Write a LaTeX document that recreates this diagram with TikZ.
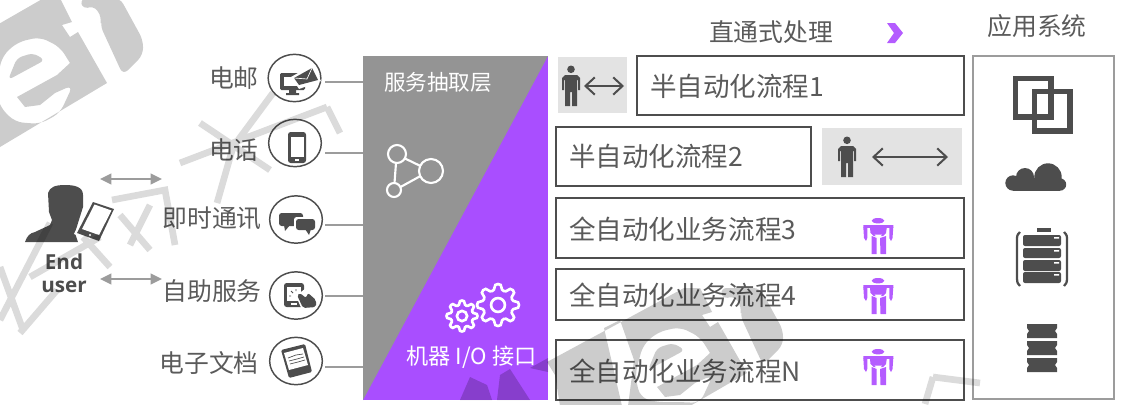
\documentclass[tikz,border=0pt]{standalone}
\usepackage{fontspec}
\setmainfont{Noto Sans CJK SC}
\newfontfamily\latinbold{Open Sans}
\usetikzlibrary{arrows.meta,shapes.geometric}
\definecolor{inkgray}{HTML}{4D4D4D}
\definecolor{textgray}{HTML}{5A5A5A}
\definecolor{chipgray}{HTML}{E3E3E3}
\definecolor{sysgray}{HTML}{9C9C9C}
\definecolor{panelgray}{HTML}{949494}
\definecolor{panelpurple}{HTML}{A94EFF}
\definecolor{robotpurple}{HTML}{B45CFF}
\tikzset{
	bigtext/.style={text=textgray, inner sep=0pt, font=\fontsize{18.6pt}{20pt}\selectfont},
	flowtext/.style={text=textgray, inner sep=0pt, anchor=west, font=\fontsize{19.9pt}{22pt}\selectfont},
	paneltext/.style={text=white, inner sep=0pt, font=\fontsize{16.2pt}{18pt}\selectfont},
	flowline/.style={draw=inkgray, line width=2pt},
	ringnode/.style={draw=inkgray, ellipse, line width=1.1pt, minimum width=39.5pt, minimum height=35.5pt, inner sep=0pt},
	stubline/.style={draw=sysgray, line width=1.7pt},
	userarrow/.style={draw=sysgray, line width=1.4pt, {Triangle[length=8.5pt,width=8pt]}-{Triangle[length=8.5pt,width=8pt]}},
	barbarrow/.style={draw=inkgray, line width=1.5pt, {Straight Barb[length=7pt,width=13pt]}-{Straight Barb[length=7pt,width=13pt]}},
	stamp/.style={fill=black, opacity=0.2},
	stampline/.style={draw=black, opacity=0.14, line width=5pt}
}
\def\workerfig(#1,#2){\begin{scope}[shift={(#1,#2)}]
	\fill[inkgray] (0,4.3) circle (3.8);
	\fill[inkgray] (-6,10) -- (6,10) -- (9,13) -- (9,25) -- (7,25) -- (7,15) -- (6,15) -- (6,41) -- (1,41) -- (1,27) -- (-1,27) -- (-1,41) -- (-6,41) -- (-6,15) -- (-7,15) -- (-7,25) -- (-9,25) -- (-9,13) -- cycle;
\end{scope}}
\def\robotfig(#1,#2){\begin{scope}[shift={(#1,#2)}]
	\fill[robotpurple] (0,2.7) ellipse (6.3 and 2.7);
	\fill[robotpurple] (-14.7,7) -- (15.3,7) -- (15.3,9.5) -- (8.7,10) -- (8,15) -- (5,18) -- (-4.5,18) -- (-7.5,15) -- (-8,10) -- (-14.7,9.5) -- cycle;
	\fill[robotpurple] (-14.7,9) -- (-10.7,9) -- (-10.7,20) -- (-12,23) -- (-14,20) -- cycle;
	\fill[robotpurple] (11.3,9) -- (15.3,9) -- (14.5,20) -- (13,23) -- (11.3,20) -- cycle;
	\fill[robotpurple] (-6.3,18) -- (-1.3,20) -- (-1.3,36) -- (-6.3,36) -- cycle;
	\fill[robotpurple] (2,20) -- (8,18) -- (8,36) -- (2.5,36) -- cycle;
	\fill[white] (-3.5,16.5) -- (4,16.5) -- (0.5,21) -- cycle;
\end{scope}}
\def\gearfig(#1,#2,#3){
	\draw[white, line width=2pt] plot[smooth cycle, samples=48, domain=0:352.5] ({#1+#3*(0.86+0.14*max(-1,min(1,1.5*cos(8*\x))))*cos(\x)},{#2+#3*(0.86+0.14*max(-1,min(1,1.5*cos(8*\x))))*sin(\x)});
	\draw[white, line width=2pt] (#1,#2) circle ({0.33*#3});
}

\begin{document}
\begin{tikzpicture}[x=0.75pt,y=-0.75pt]
	%%%%% START %%%%%
	\useasboundingbox (0,0) rectangle (1134,404);
	
	% titles
	\node[bigtext] (directtitle) at (771,32) {直通式处理};
	\node[bigtext] (systitle) at (1037,26) {应用系统};
	\fill[robotpurple] (887,23) -- (895,23) -- (903,33) -- (895,43) -- (887,43) -- (894,33) -- cycle;
	
	% channels
	\node[ringnode] (mailring) at (294.5,78) {};
	\node[ringnode] (phonering) at (295,143) {};
	\node[ringnode] (chatring) at (296,219.5) {};
	\node[ringnode] (selfring) at (296,295.5) {};
	\node[ringnode] (docring) at (296,361) {};
	\node[bigtext, anchor=east] (maillabel) at (259,78) {电邮};
	\node[bigtext, anchor=east] (phonelabel) at (259,150) {电话};
	\node[bigtext, anchor=east] (chatlabel) at (262,218) {即时通讯};
	\node[bigtext, anchor=east] (selflabel) at (262,291) {自助服务};
	\node[bigtext, anchor=east] (doclabel) at (259,363) {电子文档};
	
	\coordinate (mailstub) at (325,82);
	\coordinate (phonestub) at (325,153);
	\coordinate (chatstub) at (325,225);
	\coordinate (selfstub) at (325,296);
	\coordinate (docstub) at (325,367);
	\coordinate (mailport) at (363,82);
	\coordinate (phoneport) at (363,153);
	\coordinate (chatport) at (363,225);
	\coordinate (selfport) at (363,296);
	\coordinate (docport) at (363,367);
	\draw[stubline] (mailstub) -- (mailport);
	\draw[stubline] (phonestub) -- (phoneport);
	\draw[stubline] (chatstub) -- (chatport);
	\draw[stubline] (selfstub) -- (selfport);
	\draw[stubline] (docstub) -- (docport);
	
	% channel icons
	\fill[inkgray, rounded corners=1pt] (280,73) rectangle (305,90);
	\fill[white] (284,77) rectangle (301,86);
	\fill[inkgray] (289,90) rectangle (296,93) (286,93) rectangle (299,95);
	\fill[white] (291,77) -- (312,65) -- (321,81) -- (299,89) -- cycle;
	\fill[inkgray] (294,78) -- (312,68) -- (318,80) -- (299,85) -- cycle;
	\draw[white, line width=0.5pt] (294,78) -- (307,79) -- (312,68);
	\fill[inkgray, rounded corners=2pt] (288,132) rectangle (306,163);
	\fill[white] (290.5,137) rectangle (303.5,157);
	\fill[white] (295,159) rectangle (299,161);
	\fill[inkgray, rounded corners=2pt] (279,213) rectangle (303,226);
	\fill[inkgray] (284,225) -- (290,225) -- (285,231) -- cycle;
	\fill[white, rounded corners=2pt] (294,217) rectangle (317,232);
	\fill[inkgray, rounded corners=2pt] (296,219) rectangle (315,230);
	\fill[inkgray] (305,229) -- (311,229) -- (309,235) -- cycle;
	\fill[inkgray, rounded corners=2pt] (284,283) rectangle (304,307);
	\fill[white] (287,287) rectangle (301,301);
	\fill[white] (291,303) rectangle (297,305);
	\fill[white] (296,296) -- (306,288) -- (318,300) -- (316,309) -- (302,310) -- cycle;
	\fill[inkgray, rounded corners=1.5pt] (297,295) -- (300,293) -- (306,298) -- (308,293) -- (316,300) -- (316,307) -- (303,308) -- cycle;
	\draw[inkgray, line width=0.7pt] (291,291) -- (293,293) (296,289) -- (296,291) (289,296) -- (291,296);
	\fill[inkgray, rounded corners=1pt] (281,350) -- (305,344) -- (312,372) -- (289,378) -- cycle;
	\fill[white] (284,353) -- (303,348) -- (308,365) -- (289,370) -- cycle;
	\draw[inkgray, line width=0.5pt] (288,358) -- (296,355) -- (303,354) (289,361) -- (297,359) -- (304,357) (290,364) -- (298,362) -- (305,360);
	
	% user
	\fill[inkgray] (25,242) .. controls (27,236) and (30,233) .. (35,232) -- (50,225) -- (52,220) -- (49,212) -- (48,193) .. controls (50,187) and (55,185) .. (65,185) .. controls (75,185) and (83,187) .. (83,195) -- (83,207) -- (78,223) -- (75,233) -- (78,242) -- cycle;
	\fill[white] (91,199) -- (117,208) -- (100,244) -- (74,234) -- cycle;
	\fill[inkgray] (93,202) -- (114,209) -- (99,241) -- (77,233) -- cycle;
	\fill[white] (94.5,204.5) -- (111.5,210.5) -- (99,235) -- (82,229) -- cycle;
	\fill[white] (90,235) circle (1.2);
	\node[text=inkgray, inner sep=0pt, font=\latinbold\bfseries\fontsize{15.5pt}{17pt}\selectfont] (endlabel) at (64,262) {End};
	\node[text=inkgray, inner sep=0pt, font=\latinbold\bfseries\fontsize{15.5pt}{17pt}\selectfont] (userlabel) at (64,287) {user};
	\coordinate (upperarrowa) at (100,179);
	\coordinate (upperarrowb) at (162,179);
	\coordinate (lowerarrowa) at (100,279);
	\coordinate (lowerarrowb) at (162,279);
	\draw[userarrow] (upperarrowa) -- (upperarrowb);
	\draw[userarrow] (lowerarrowa) -- (lowerarrowb);
	
	% panel
	\fill[panelpurple] (363,56) rectangle (548,400);
	\fill[panelgray] (363,56) -- (548,56) -- (363,400) -- cycle;
	\node[paneltext] (abstractlabel) at (438,82) {服务抽取层};
	\node[paneltext, font=\fontsize{16.6pt}{18pt}\selectfont] (iolabel) at (471.5,357) {机器 I/O 接口};
	\draw[white, line width=1.6pt] (397,154) circle (9);
	\draw[white, line width=1.6pt] (431,171) circle (12);
	\draw[white, line width=1.6pt] (394,190) circle (7);
	\draw[white, line width=1.6pt] (396,163) -- (394.5,183) (405,158.5) -- (420.5,166) (400.5,187) -- (420.5,176);
	\gearfig(498,305,21)
	\gearfig(462,316,15.5)
	
	% flows
	\fill[chipgray] (558,57) rectangle (627,113);
	\fill[chipgray] (822,128) rectangle (962,185);
	\workerfig(571,65)
	\workerfig(847,136)
	\coordinate (shortarrowa) at (584,86);
	\coordinate (shortarrowb) at (624,86);
	\coordinate (longarrowa) at (872,157);
	\coordinate (longarrowb) at (948,157);
	\draw[barbarrow] (shortarrowa) -- (shortarrowb);
	\draw[barbarrow] (longarrowa) -- (longarrowb);
	
	\draw[flowline] (637,56) rectangle (964,115);
	\draw[flowline] (556,127) rectangle (811,186);
	\draw[flowline] (556,198) rectangle (964,258);
	\draw[flowline] (556,269) rectangle (964,320);
	\draw[flowline] (556,340) rectangle (964,400);
	\node[flowtext] (flowone) at (650,86) {半自动化流程1};
	\node[flowtext] (flowtwo) at (569,156) {半自动化流程2};
	\node[flowtext] (flowthree) at (569,229) {全自动化业务流程3};
	\node[flowtext] (flowfour) at (569,295) {全自动化业务流程4};
	\node[flowtext] (flowlast) at (569,371) {全自动化业务流程N};
	\robotfig(878,218)
	\robotfig(878,278)
	\robotfig(878,349)
	
	% systems
	\draw[draw=sysgray, line width=2.2pt] (973,56) rectangle (1114,399);
	\draw[inkgray, line width=3.8pt] (1015.5,78.5) rectangle (1051,117);
	\draw[inkgray, line width=3.8pt] (1034.5,91.5) rectangle (1070,131);
	\fill[inkgray] (1013,183) circle (7.7) (1025,177) circle (9) (1048,177) circle (13.7) (1060,184.5) circle (6.2);
	\fill[inkgray] (1013,178) rectangle (1060,190.7);
	\fill[inkgray] (1037,228) rectangle (1051,232);
	\fill[inkgray, rounded corners=1.5pt] (1023,235) rectangle (1061,246);
	\fill[inkgray, rounded corners=1.5pt] (1023,248) rectangle (1061,258);
	\fill[inkgray, rounded corners=1.5pt] (1023,260) rectangle (1061,271);
	\fill[inkgray, rounded corners=1.5pt] (1023,272) rectangle (1061,283);
	\fill[white] (1054,237) rectangle (1059,238.5) (1054,250) rectangle (1059,251.5) (1054,262) rectangle (1059,263.5) (1054,274) rectangle (1059,275.5);
	\draw[inkgray, line width=1.7pt] (1020,232) .. controls (1017,235) and (1017,236) .. (1017,240) -- (1017,278) .. controls (1017,283) and (1018,284) .. (1020,286);
	\draw[inkgray, line width=1.7pt] (1064,232) .. controls (1067,235) and (1067,236) .. (1067,240) -- (1067,278) .. controls (1067,283) and (1066,284) .. (1064,286);
	\fill[inkgray] (1027,324) -- (1057,324) -- (1057,328) -- (1055,331) -- (1057,334) -- (1057,338) -- (1027,338) -- (1027,334) -- (1029,331) -- (1027,328) -- cycle;
	\fill[inkgray] (1027,341) -- (1057,341) -- (1057,345) -- (1055,348) -- (1057,351) -- (1057,355) -- (1027,355) -- (1027,351) -- (1029,348) -- (1027,345) -- cycle;
	\fill[inkgray] (1027,358) -- (1057,358) -- (1057,362) -- (1055,365) -- (1057,368) -- (1057,372) -- (1027,372) -- (1027,368) -- (1029,365) -- (1027,362) -- cycle;
	
	% stamp over everything
	\fill[stamp, rounded corners=5pt] (80,-2) -- (83,10) -- (93,5) -- (102,17) -- (100,25) -- (123,75) -- (143,55) -- (143,40) -- (120,-2) -- cycle;
	\fill[stamp, even odd rule] (-10,29) -- (44,-2) -- (60,-2) -- (72,22) -- (62,25) -- (70,37) -- (78,32) -- (107,83) -- (-10,153) -- cycle
		[rounded corners=6pt] (70,63) -- (60,47) -- (40,37) -- (18,42) -- (3,55) -- (-5,85) -- (0,107) -- (15,122) -- (40,124) -- (60,113) -- (73,85) [sharp corners] -- (55,93) -- (40,105) -- (25,107) -- (17,97) -- (57,75) -- cycle
		[rounded corners=4pt] (8,80) -- (17,58) -- (33,53) -- (45,60) -- cycle;
	\fill[stamp, rounded corners=5pt] (720,288) -- (723,300) -- (733,295) -- (742,307) -- (740,315) -- (763,365) -- (783,345) -- (783,330) -- (760,288) -- cycle;
	\fill[stamp, even odd rule] (547,362) -- (684,288) -- (700,288) -- (712,312) -- (702,315) -- (710,327) -- (718,322) -- (747,373) -- (690,406) -- (560,406) -- (555,375) -- cycle
		[rounded corners=6pt] (710,353) -- (700,337) -- (680,327) -- (658,332) -- (643,345) -- (635,375) -- (640,397) -- (655,402) -- (680,402) -- (700,403) -- (713,375) [sharp corners] -- (695,383) -- (680,395) -- (665,397) -- (657,387) -- (697,365) -- cycle
		[rounded corners=4pt] (648,370) -- (657,348) -- (673,343) -- (685,350) -- cycle
		[sharp corners] (604,328) -- (620,320) -- (634,360) -- (628,406) -- (622,406) -- cycle;
	\fill[stamp] (460,400) -- (470,377) -- (487,385) -- (492,400) -- cycle;
	\fill[stamp] (497,400) -- (500,375) -- (510,369) -- (530,400) -- cycle;
	\fill[stamp] (530,368) -- (548,358) -- (548,372) -- cycle;
	\draw[stampline] (180,163) -- (327,107) (200,123) -- (270,170) (273,93) -- (233,147) -- (217,203) (327,107) -- (340,133) (112,200) -- (165,190) -- (175,245) (120,215) -- (150,250) (150,205) -- (130,245) (0,267) -- (23,330) (50,223) -- (0,320) (57,290) -- (20,333) (30,277) -- (100,237) (83,237) -- (110,267) (933,377) -- (980,383) (933,377) -- (925,404);
	
	%%%%% END %%%%%
\end{tikzpicture}
\end{document}
